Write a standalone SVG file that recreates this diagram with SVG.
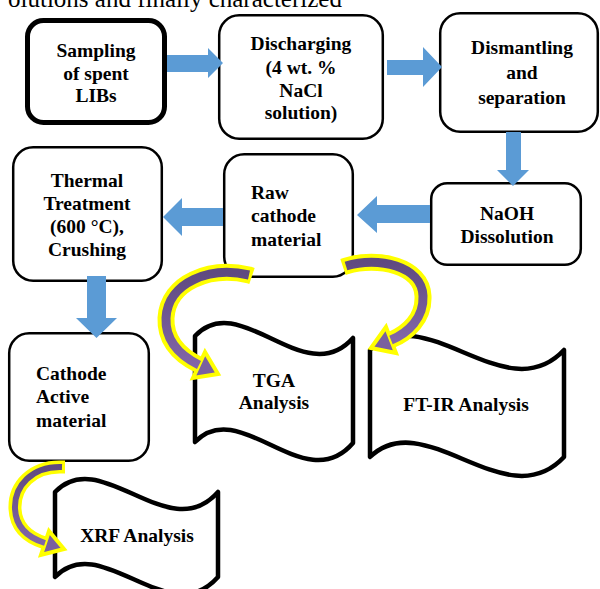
<svg xmlns="http://www.w3.org/2000/svg" width="600" height="589" viewBox="0 0 600 589">
<defs>
<linearGradient id="purp" x1="0" y1="0" x2="0" y2="1">
<stop offset="0" stop-color="#5f4a80"/>
<stop offset="1" stop-color="#8266a8"/>
</linearGradient>
<style>
.box{fill:#fff;stroke:#000;stroke-width:2.5}
.thick{stroke-width:5}
.wave{fill:#fff;stroke:#000;stroke-width:4.5;stroke-linejoin:round}
.t{font-family:"Liberation Serif","Times New Roman",serif;font-weight:bold;font-size:19.5px;fill:#000}
.c{text-anchor:middle}
.blue{fill:#5b9bd5}
.yl{fill:none;stroke:#ffff00;stroke-linecap:butt}
.pp{fill:none;stroke:url(#purp);stroke-linecap:butt}
.hd{fill:#7a60a0;stroke:#ffff00;stroke-width:4;stroke-linejoin:miter}
</style>
</defs>
<rect width="600" height="589" fill="#fff"/>
<text x="8" y="7" font-family="Liberation Serif, serif" font-size="25" fill="#000">olutions and finally characterized</text>

<g id="sampling">
<rect class="box thick" x="27.5" y="20.5" width="137" height="102" rx="16"/>
<text class="t c" x="96" y="57">Sampling</text>
<text class="t c" x="96" y="80">of spent</text>
<text class="t c" x="96" y="102">LIBs</text>
</g>
<g id="discharging">
<rect class="box" x="219.2" y="15.2" width="163.6" height="123.6" rx="20"/>
<text class="t c" x="301" y="50">Discharging</text>
<text class="t c" x="301" y="74">(4 wt. %</text>
<text class="t c" x="301" y="97">NaCl</text>
<text class="t c" x="301" y="119">solution)</text>
</g>
<g id="dismantling">
<rect class="box" x="440.2" y="13.2" width="157.6" height="118.6" rx="20"/>
<text class="t c" x="522" y="54">Dismantling</text>
<text class="t c" x="522" y="79">and</text>
<text class="t c" x="522" y="104">separation</text>
</g>
<g id="naoh">
<rect class="box" x="431.2" y="183.2" width="149.6" height="81.6" rx="16"/>
<text class="t c" x="507" y="220">NaOH</text>
<text class="t c" x="507" y="243">Dissolution</text>
</g>
<g id="raw">
<rect class="box" x="224.2" y="154.2" width="128.6" height="122.6" rx="20"/>
<text class="t" x="251" y="199">Raw</text>
<text class="t" x="251" y="222">cathode</text>
<text class="t" x="251" y="246">material</text>
</g>
<g id="thermal">
<rect class="box" x="13.2" y="147.2" width="148.6" height="133.6" rx="20"/>
<text class="t c" x="87" y="187">Thermal</text>
<text class="t c" x="87" y="210">Treatment</text>
<text class="t c" x="87" y="233">(600 °C),</text>
<text class="t c" x="87" y="256">Crushing</text>
</g>
<g id="cathode">
<rect class="box" x="9.2" y="333.2" width="139.6" height="127.6" rx="20"/>
<text class="t" x="36" y="380">Cathode</text>
<text class="t" x="36" y="403">Active</text>
<text class="t" x="36" y="427">material</text>
</g>
<g id="tga">
<path class="wave" d="M195,336 C240,288 305,392 353,338 L353,443 C305,499 240,395 195,442 Z"/>
<text class="t c" x="274" y="387">TGA</text>
<text class="t c" x="274" y="409">Analysis</text>
</g>
<g id="ftir">
<path class="wave" d="M370,350 C425,297 506,412 564,350 L564,457 C506,519 425,404 370,457 Z"/>
<text class="t c" x="466" y="411">FT-IR Analysis</text>
</g>
<g id="xrf">
<path class="wave" d="M55,492 C101,444 169,548 218,492 L218,577 C169,633 101,529 55,577 Z"/>
<text class="t c" x="137" y="542">XRF Analysis</text>
</g>

<g id="connectors">
<polygon class="blue" points="167,55 208,55 208,48 223,63 208,78 208,72 167,72"/>
<polygon class="blue" points="387,60 423,60 423,47 442,67 423,87 423,75 387,75"/>
<polygon class="blue" points="506,132 521,132 521,170 529,170 513,186 497,170 506,170"/>
<polygon class="blue" points="430,205 377,205 377,196 357,215 377,233 377,223 430,223"/>
<polygon class="blue" points="223,208 182,208 182,198 163,217 182,236 182,226 223,226"/>
<polygon class="blue" points="87,276 106,276 106,318 117,318 96.5,338 76,318 87,318"/>

<g id="curve-tga">
<path class="yl" stroke-width="17" d="M252,276 L249,275 C210,266 168,282 166,318 C165,343 183,357 199,365"/>
<polygon class="hd" points="218,374 193,378 205,352"/>
<path class="pp" stroke-width="9" d="M249,275 C210,266 168,282 166,318 C165,343 183,357 199,365"/>
</g>
<g id="curve-ftir">
<path class="yl" stroke-width="17" d="M343,267 L346,266 C378,256 422,266 423,296 C424,318 408,333 391,340"/>
<polygon class="hd" points="371,348 396,353 386,327"/>
<path class="pp" stroke-width="9" d="M346,266 C378,256 422,266 423,296 C424,318 408,333 391,340"/>
</g>
<g id="curve-xrf">
<path class="yl" stroke-width="13" d="M65,467 L62,467 C32,466 14,486 15,509 C16,528 29,538 45,543"/>
<polygon class="hd" points="64,549 41,555 49,531"/>
<path class="pp" stroke-width="6" d="M62,467 C32,466 14,486 15,509 C16,528 29,538 45,543"/>
</g>
</g>
</svg>
